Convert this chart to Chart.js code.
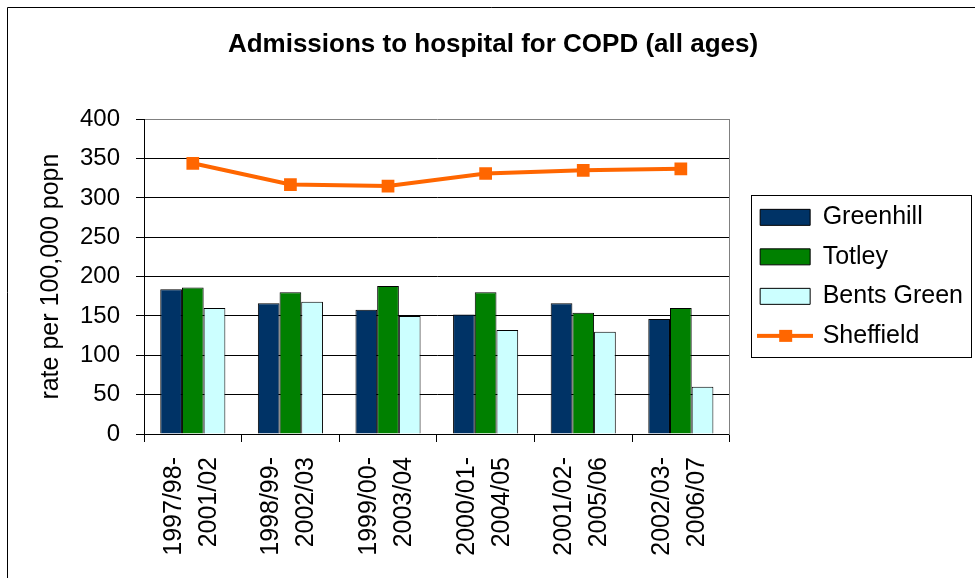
<!DOCTYPE html>
<html>
<head>
<meta charset="utf-8">
<title>Admissions to hospital for COPD</title>
<script src="https://cdn.jsdelivr.net/npm/chart.js@4/dist/chart.umd.min.js"></script>
<style>
    html, body { margin: 0; padding: 0; background: #ffffff; }
    #wrap { width: 975px; height: 578px; }
</style>
</head>
<body>
<div id="wrap"><canvas id="copdChart" width="975" height="578"></canvas></div>
<script>
// Rolling 5-year periods
const categories = [
    ['1997/98-', '2001/02'],
    ['1998/99-', '2002/03'],
    ['1999/00-', '2003/04'],
    ['2000/01-', '2004/05'],
    ['2001/02-', '2005/06'],
    ['2002/03-', '2006/07']
];
const greenhill = [184, 166, 158, 152, 166, 146];
const totley = [186, 180, 188, 180, 154, 160];
const bentsGreen = [160, 168, 150, 132, 130, 60];
const sheffield = [344, 317, 315, 331, 335, 337];
const yTicks = [0, 50, 100, 150, 200, 250, 300, 350, 400];

Chart.defaults.font.family = "'Liberation Sans', Arial, sans-serif";
Chart.defaults.color = '#000000';

// little line + square icon for the Sheffield legend entry
function makeLineIcon() {
    const icon = document.createElement('canvas');
    icon.width = 56;
    icon.height = 14;
    const c = icon.getContext('2d');
    c.strokeStyle = '#FF6600';
    c.lineWidth = 4;
    c.beginPath();
    c.moveTo(0, 7);
    c.lineTo(56, 7);
    c.stroke();
    c.fillStyle = '#FF6600';
    c.fillRect(22, 1, 13, 12);
    return icon;
}
const lineIcon = makeLineIcon();

const chartFrame = {
    id: 'chartFrame',
    beforeDraw(chart) {
        const ctx = chart.ctx;
        ctx.save();
        ctx.fillStyle = '#ffffff';
        ctx.fillRect(0, 0, chart.width, chart.height);
        ctx.strokeStyle = '#000000';
        ctx.lineWidth = 1;
        ctx.beginPath();
        ctx.moveTo(7.5, chart.height);
        ctx.lineTo(7.5, 7.5);
        ctx.lineTo(chart.width, 7.5);
        ctx.stroke();
        ctx.restore();
    },
    afterDraw(chart) {
        // border round the legend
        const boxes = chart.legend.legendHitBoxes;
        if (!boxes || !boxes.length) return;
        const left = Math.min(...boxes.map(b => b.left)) - 9;
        const right = Math.max(...boxes.map(b => b.left + b.width)) + 8;
        const top = boxes[0].top - 10;
        const last = boxes[boxes.length - 1];
        const bottom = last.top + last.height + 8;
        const ctx = chart.ctx;
        ctx.save();
        ctx.strokeStyle = '#000000';
        ctx.lineWidth = 1;
        ctx.strokeRect(Math.round(left) + 0.5, Math.round(top) + 0.5,
            Math.round(right - left), Math.round(bottom - top));
        ctx.restore();
    }
};

const ctx = document.getElementById('copdChart').getContext('2d');

new Chart(ctx, {
    type: 'bar',
    data: {
        labels: categories,
        datasets: [
            {
                label: 'Greenhill',
                data: greenhill,
                backgroundColor: '#003366',
                borderColor: '#000000',
                borderWidth: 1
            },
            {
                label: 'Totley',
                data: totley,
                backgroundColor: '#008000',
                borderColor: '#000000',
                borderWidth: 1
            },
            {
                label: 'Bents Green',
                data: bentsGreen,
                backgroundColor: '#CCFFFF',
                borderColor: '#000000',
                borderWidth: 1
            },
            {
                type: 'line',
                label: 'Sheffield',
                data: sheffield,
                borderColor: '#FF6600',
                backgroundColor: '#FF6600',
                borderWidth: 4,
                tension: 0,
                pointStyle: 'rect',
                pointRadius: 9,
                pointHoverRadius: 9,
                pointBorderWidth: 0,
                pointBackgroundColor: '#FF6600'
            }
        ]
    },
    options: {
        responsive: false,
        animation: false,
        categoryPercentage: 0.667,
        barPercentage: 1.0,
        layout: {
            padding: { left: 13, right: 2, top: 0, bottom: 0 }
        },
        plugins: {
            title: {
                display: true,
                text: 'Admissions to hospital for COPD (all ages)',
                color: '#000000',
                font: { size: 26, weight: 'bold' },
                padding: { top: 29, bottom: 59 }
            },
            legend: {
                display: true,
                position: 'right',
                fullSize: false,
                maxWidth: 300,
                labels: {
                    color: '#000000',
                    font: { size: 25 },
                    usePointStyle: true,
                    pointStyleWidth: 50,
                    boxWidth: 50,
                    boxHeight: 16,
                    padding: 14.5,
                    generateLabels(chart) {
                        const items = Chart.defaults.plugins.legend.labels.generateLabels(chart);
                        items.forEach(item => {
                            if (item.text === 'Sheffield') {
                                item.pointStyle = lineIcon;
                            } else {
                                item.pointStyle = 'rect';
                                item.strokeStyle = '#000000';
                                item.lineWidth = 1;
                            }
                        });
                        return items;
                    }
                }
            },
            tooltip: { enabled: false }
        },
        scales: {
            x: {
                grid: {
                    offset: true,
                    drawOnChartArea: false,
                    tickLength: 8,
                    tickColor: '#000000'
                },
                border: { color: '#000000' },
                ticks: {
                    autoSkip: false,
                    minRotation: 90,
                    maxRotation: 90,
                    padding: 15,
                    labelOffset: -19,
                    color: '#000000',
                    font: { size: 25, lineHeight: 1.4 }
                },
                afterFit(scale) {
                    scale.height = 144;
                }
            },
            y: {
                min: 0,
                max: 400,
                afterBuildTicks(scale) {
                    scale.ticks = yTicks.map(v => ({ value: v }));
                },
                grid: {
                    color: c => (c.tick && c.tick.value === 400 ? '#808080' : '#000000'),
                    tickColor: '#000000',
                    tickLength: 8
                },
                border: { color: '#000000' },
                ticks: {
                    padding: 16,
                    color: '#000000',
                    font: { size: 24 }
                },
                title: {
                    display: true,
                    text: 'rate per 100,000 popn',
                    color: '#000000',
                    font: { size: 25 },
                    padding: { top: 23, bottom: 4 }
                },
                afterFit(scale) {
                    scale.width = 131;
                }
            },
            y2: {
                position: 'right',
                grid: { drawOnChartArea: false, drawTicks: false },
                border: { color: '#808080' },
                ticks: { display: false },
                afterFit(scale) {
                    scale.width = 16;
                }
            }
        }
    },
    plugins: [chartFrame]
});
</script>
</body>
</html>
